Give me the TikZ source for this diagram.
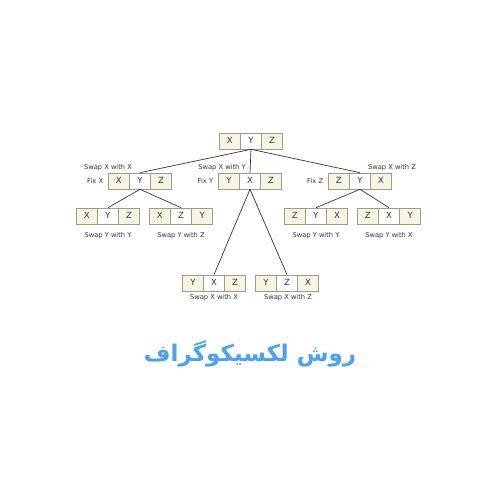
\documentclass[tikz,border=0pt]{standalone}
\usepackage{fontspec}
\setmainfont{DejaVu Sans}
\newfontfamily\persianfont[Script=Arabic]{DejaVu Sans}
\TeXXeTstate=1
\usetikzlibrary{shapes.multipart}
\definecolor{cellbg}{HTML}{F6F5E2}
\definecolor{cellline}{HTML}{9C9C8C}
\definecolor{titleblue}{HTML}{4AA2F1}
\definecolor{darktext}{HTML}{333333}

% one cell of a permutation box
\newcommand{\pcell}[1]{\makebox[20.5pt]{\rule[-5.3pt]{0pt}{16pt}#1}}
\newcommand{\perm}[3]{\pcell{#1}\nodepart{two}\pcell{#2}\nodepart{three}\pcell{#3}}

\begin{document}
\begin{tikzpicture}[x=1pt,y=-1pt,
  perm/.style={rectangle split, rectangle split horizontal, rectangle split parts=3,
    rectangle split part fill={cellbg,white,cellbg}, draw=cellline, line width=0.6pt,
    inner xsep=0pt, inner ysep=0pt, text=darktext, font=\fontsize{8.5}{9}\selectfont},
  note/.style={text=darktext, inner sep=1pt, font=\fontsize{6.7}{8}\selectfont},
  link/.style={draw=darktext, line width=0.7pt}]
\path[fill=white] (0,0) rectangle (500,500);

% permutations
\node[perm] (root) at (251,141) {\perm XYZ};
\node[perm] (fx) at (140,181) {\perm XYZ};
\node[perm] (fy) at (250,181) {\perm YXZ};
\node[perm] (fz) at (360,181) {\perm ZYX};
\node[perm] (xyz) at (108,216) {\perm XYZ};
\node[perm] (xzy) at (181,216) {\perm XZY};
\node[perm] (zyx) at (316,216) {\perm ZYX};
\node[perm] (zxy) at (389,216) {\perm ZXY};
\node[perm] (yxz) at (214,283) {\perm YXZ};
\node[perm] (yzx) at (287,283) {\perm YZX};

% labels
\node[note, left=4pt] (fixx) at (fx.west) {Fix X};
\node[note, left=4pt] (fixy) at (fy.west) {Fix Y};
\node[note, left=4pt] (fixz) at (fz.west) {Fix Z};
\node[note] (sxx) at (108,168) {Swap X with X};
\node[note] (sxy) at (222,168) {Swap X with Y};
\node[note] (sxz) at (392,168) {Swap X with Z};
\node[note] (syy1) at (108,236) {Swap Y with Y};
\node[note] (syz) at (181,236) {Swap Y with Z};
\node[note] (syy2) at (316,236) {Swap Y with Y};
\node[note] (syx) at (389,236) {Swap Y with X};
\node[note] (sxx2) at (214,298) {Swap X with X};
\node[note] (sxz2) at (288,298) {Swap X with Z};

% tree
\draw[link] (root.two south) -- (fx.two north);
\draw[link] (root.two south) -- (fy.two north);
\draw[link] (root.two south) -- (fz.two north);
\draw[link] (fx.two south) -- (xyz.two north);
\draw[link] (fx.two south) -- (xzy.two north);
\draw[link] (fy.two south) -- (yxz.two north);
\draw[link] (fy.two south) -- (yzx.two north);
\draw[link] (fz.two south) -- (zyx.two north);
\draw[link] (fz.two south) -- (zxy.two north);

\node[text=titleblue, font=\persianfont\bfseries\fontsize{23}{27}\selectfont] (title) at (250,354) {\beginR روش لکسیکوگراف\endR};
\end{tikzpicture}
\end{document}
